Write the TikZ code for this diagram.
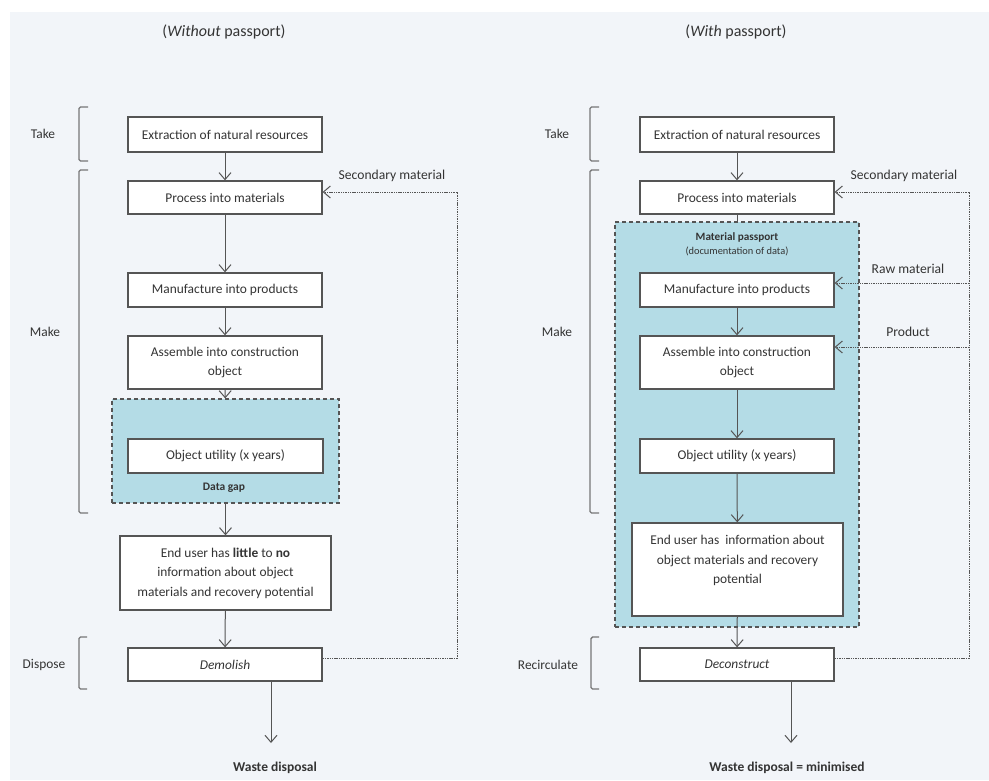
\documentclass[tikz,border=0pt]{standalone}
\usepackage{fontspec}
\setmainfont{Carlito}
\usetikzlibrary{arrows.meta}
\definecolor{bgpaper}{RGB}{242,245,249}
\definecolor{passblue}{RGB}{180,220,230}
\definecolor{ink}{RGB}{52,52,52}
\definecolor{frame}{RGB}{85,85,85}
\tikzset{
  stepbox/.style={draw=frame, line width=1.3pt, fill=white, inner sep=0pt,
    minimum width=194pt, align=center, text=ink, font=\fontsize{13.4}{19.5}\selectfont},
  region/.style={draw=frame, line width=1.2pt, dash pattern=on 4pt off 3pt,
    fill=passblue, inner sep=0pt},
  flow/.style={draw=frame, line width=1pt, -{Straight Barb[length=7pt,width=12pt,line width=1pt]}},
  plainflow/.style={draw=frame, line width=1pt},
  loop/.style={draw=frame, line width=0.9pt, dash pattern=on 1.4pt off 0.9pt},
  looparr/.style={loop, -{Straight Barb[length=7pt,width=12pt,line width=1pt]}},
  brace/.style={draw=frame!80, line width=1.4pt, rounded corners=1.5pt},
  phase/.style={text=ink, font=\fontsize{13.4}{16}\selectfont},
  title/.style={text=ink, font=\fontsize{16}{19}\selectfont},
  note/.style={text=ink, font=\fontsize{13.6}{16}\selectfont},
  tag/.style={text=ink, font=\bfseries\fontsize{11.5}{14}\selectfont, align=center},
  outcome/.style={text=ink, font=\bfseries\fontsize{13.5}{16}\selectfont}
}
\begin{document}
\begin{tikzpicture}[x=1pt,y=-1pt]
\useasboundingbox (0,0) rectangle (989,780);
\fill[white] (0,0) rectangle (989,780);
\fill[bgpaper] (10,12) rectangle (989,780);

% ---------------- left flow: without passport ----------------
\node[title] (tL) at (224,32) {(\textit{Without} passport)};

\node[region, minimum width=227pt, minimum height=104pt] (gapL) at (225.5,451) {};
\node[tag] (gaptag) at (224,488) {Data gap};

\node[stepbox, minimum height=35pt] (eL) at (225,134.5) {Extraction of natural resources};
\node[stepbox, minimum height=33pt] (pL) at (225,197.5) {Process into materials};
\node[stepbox, minimum height=34pt] (mL) at (225,290) {Manufacture into products};
\node[stepbox, minimum height=53pt] (aL) at (225,362.5) {Assemble into construction\\object};
\node[stepbox, minimum width=195pt, minimum height=34pt] (uL) at (225.5,456) {Object utility (x years)};
\node[stepbox, minimum width=211pt, minimum height=74pt] (nL) at (225.5,573)
  {End user has \textbf{little} to \textbf{no}\\information about object\\materials and recovery potential};
\node[stepbox, minimum height=33pt] (dL) at (225,664.5) {\textit{Demolish}};
\coordinate (wLtip) at (271,743);
\node[outcome] (wL) at (275,768) {Waste disposal};

\draw[flow] (eL) -- (pL);
\draw[flow] (pL) -- (mL);
\draw[flow] (mL) -- (aL);
\draw[flow] (aL) -- (gapL);
\draw[flow] (gapL) -- (nL);
\draw[flow] (nL) -- (dL);
\draw[flow] (dL.south -| wLtip) -- (wLtip);

\coordinate (lLoopTop) at (457,192);
\draw[looparr] ([yshift=6.5pt]dL.east) -| (lLoopTop) -- ([yshift=5.5pt]pL.east);
\node[note] (secL) at (392,176) {Secondary material};

% phase brackets, left
\draw[brace] (88,107) -- (79,107) -- (79,161) -- (88,161);
\draw[brace] (88,170) -- (79,170) -- (79,513) -- (88,513);
\draw[brace] (87,637) -- (79,637) -- (79,689) -- (87,689);
\node[phase] (takeL) at (43,134) {Take};
\node[phase] (makeL) at (45,332) {Make};
\node[phase] (dispL) at (44,665) {Dispose};

% ---------------- right flow: with passport ----------------
\node[title] (tR) at (736,32) {(\textit{With} passport)};

\node[region, minimum width=244pt, minimum height=405pt] (passR) at (737,424.5) {};
\node[tag, font=\bfseries\fontsize{11.2}{14}\selectfont] (passtag) at (737,244)
  {Material passport\\{\mdseries\fontsize{10.4}{12}\selectfont (documentation of data)}};

\node[stepbox, minimum height=35pt] (eR) at (737,134.5) {Extraction of natural resources};
\node[stepbox, minimum height=33pt] (pR) at (737,197.5) {Process into materials};
\node[stepbox, minimum height=34pt] (mR) at (737,290) {Manufacture into products};
\node[stepbox, minimum height=53pt] (aR) at (737,362.5) {Assemble into construction\\object};
\node[stepbox, minimum height=34pt] (uR) at (737,456) {Object utility (x years)};
\node[stepbox, minimum width=211pt, minimum height=93pt] (nR) at (737.5,569.5)
  {End user has\ \ information about\\object materials and recovery\\potential\\\mbox{}};
\node[stepbox, minimum height=33pt] (dR) at (737,664.5) {\textit{Deconstruct}};
\coordinate (wRtip) at (791,743);
\node[outcome] (wR) at (787,768) {Waste disposal = minimised};

\draw[flow] (eR) -- (pR);
\draw[plainflow] (pR) -- (passR.north);
\draw[flow] (mR) -- (aR);
\draw[flow] (aR) -- (uR);
\draw[flow] (uR) -- (nR);
\draw[flow] (nR) -- (dR);
\draw[flow] (dR.south -| wRtip) -- (wRtip);

\coordinate (rLoopTop) at (969,192);
\coordinate (rRaw) at (969,283);
\coordinate (rProd) at (969,347);
\draw[looparr] ([yshift=6.5pt]dR.east) -| (rLoopTop) -- ([yshift=5.5pt]pR.east);
\draw[looparr] (rRaw) -- ([yshift=7pt]mR.east);
\draw[looparr] (rProd) -- ([yshift=15.5pt]aR.east);
\node[note] (secR) at (904,176) {Secondary material};
\node[note] (rawR) at (908,269) {Raw material};
\node[note] (prodR) at (908,332) {Product};

% phase brackets, right
\draw[brace] (599,107) -- (590,107) -- (590,161) -- (599,161);
\draw[brace] (599,170) -- (590,170) -- (590,513) -- (599,513);
\draw[brace] (599,637) -- (591,637) -- (591,689) -- (599,689);
\node[phase] (takeR) at (557,134) {Take};
\node[phase] (makeR) at (557,332) {Make};
\node[phase] (recR) at (548,665) {Recirculate};
\end{tikzpicture}
\end{document}
